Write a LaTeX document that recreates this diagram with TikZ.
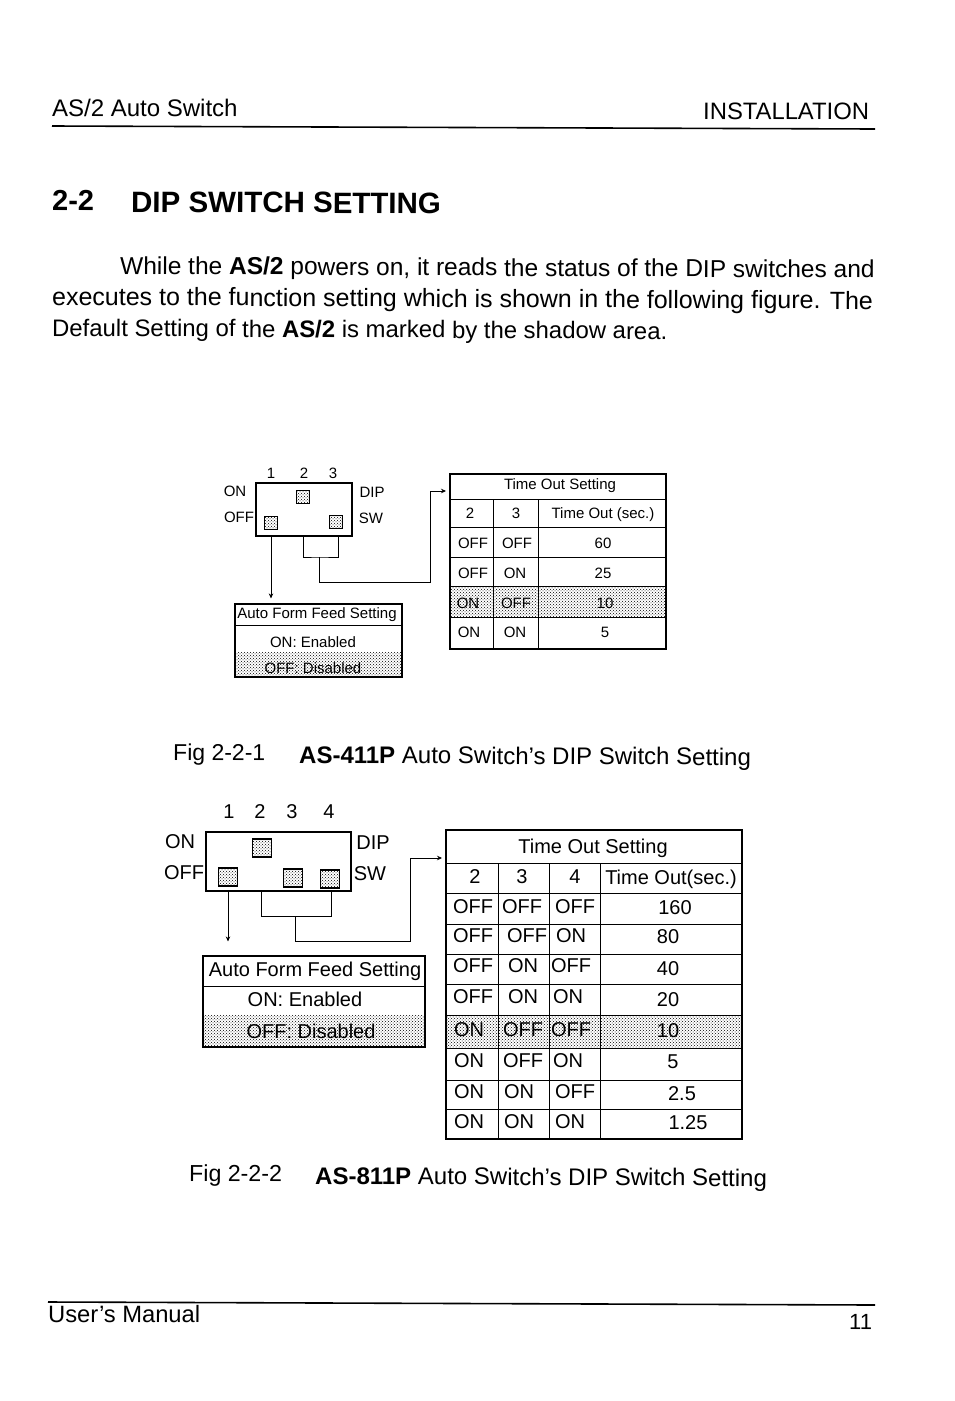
\documentclass[tikz,border=0pt]{standalone}
\usepackage{fontspec}
\setmainfont{Liberation Sans}
\usetikzlibrary{patterns,arrows.meta}

\begin{document}
\begin{tikzpicture}[x=1pt, y=-1pt,
  page/.style={anchor=base west, inner sep=0, rotate=-0.3, font=\fontsize{24}{28}\selectfont},
  small/.style={inner sep=0, font=\fontsize{15}{18}\selectfont},
  mid/.style={inner sep=0, font=\fontsize{20}{24}\selectfont},
  frame/.style={draw, line width=1.2pt, inner sep=0},
  dotfill/.style={inner sep=0, pattern=crosshatch dots, pattern color=black},
  switch/.style={draw, line width=1.5pt, inner sep=0, pattern=crosshatch dots, pattern color=black},
  grid/.style={line width=0.7pt},
  transfer/.style={-{Stealth[length=5pt, width=4.5pt]}, line width=0.7pt, shorten >=4pt},
  link/.style={line width=0.7pt},
]
\useasboundingbox (0,0) rectangle (954,1401);

% page text
\node[page] (runhead) at (52,116) {AS/2 Auto Switch};
\node[page, font=\fontsize{23.8}{28}\selectfont] (runsection) at (703,119) {INSTALLATION};
\draw[line width=1.6pt] (52,126) -- (875,129);
\node[page, rotate=0, font=\fontsize{29}{34}\selectfont\bfseries] (secnum) at (52,210) {2-2};
\node[page, rotate=0, font=\fontsize{29.5}{34}\selectfont\bfseries] (sectitle) at (131,212) {DIP SWITCH SETTING};
\node[page, font=\fontsize{24.5}{28}\selectfont] (bodya) at (120,274) {While the \textbf{AS/2} powers on, it reads the status of the DIP switches and};
\node[page, font=\fontsize{25}{28}\selectfont] (bodyb) at (52,305) {executes to the function setting which is shown in the following figure. The};
\node[page, font=\fontsize{23.9}{28}\selectfont] (bodyc) at (52,336) {Default Setting of the \textbf{AS/2} is marked by the shadow area.};

% first switch
\node[frame, minimum width=96, minimum height=53] (dip1) at (304,509.5) {};
\node[switch, minimum size=13] (dip1sw1) at (271,523) {};
\node[switch, minimum size=13] (dip1sw2) at (303,497) {};
\node[switch, minimum size=13] (dip1sw3) at (336,522) {};
\node[small] (dip1num1) at (271,473) {1};
\node[small] (dip1num2) at (304,473) {2};
\node[small] (dip1num3) at (333,473) {3};
\node[small] (dip1on) at (235,491) {ON};
\node[small] (dip1off) at (239,517) {OFF};
\node[small] (dip1dip) at (372,492) {DIP};
\node[small] (dip1sw) at (371,518) {SW};

% first form feed box
\node[dotfill, minimum width=167, minimum height=25] (feed1shade) at (318.5,664.5) {};
\node[frame, minimum width=167, minimum height=73] (feed1) at (318.5,640.5) {};
\draw[grid] (235,625) -- (402,625);
\node[small] (feed1head) at (317,615) {Auto Form Feed Setting};
\node[small] (feed1on) at (313,642) {ON: Enabled};
\node[small] (feed1off) at (313,668) {OFF: Disabled};

% first time out table
\node[dotfill, minimum width=216, minimum height=31] (time1shade) at (558,601.5) {};
\node[frame, minimum width=216, minimum height=175] (time1) at (558,561.5) {};
\draw[grid] (450,499) -- (666,499) (450,527) -- (666,527) (450,557) -- (666,557)
  (450,586) -- (666,586) (450,617) -- (666,617);
\draw[grid] (493,499) -- (493,649) (538,499) -- (538,649);
\node[small] (time1head) at (560,486) {Time Out Setting};
\node[small] (time1a) at (470,513) {2};
\node[small] (time1b) at (516,513) {3};
\node[small] (time1c) at (603,515) {Time Out (sec.)};
\node[small] (time1r1a) at (473,543) {OFF};
\node[small] (time1r1b) at (517,543) {OFF};
\node[small] (time1r1c) at (603,543) {60};
\node[small] (time1r2a) at (473,573) {OFF};
\node[small] (time1r2b) at (515,573) {ON};
\node[small] (time1r2c) at (603,573) {25};
\node[small] (time1r3a) at (468,603) {ON};
\node[small] (time1r3b) at (516,603) {OFF};
\node[small] (time1r3c) at (605,603) {10};
\node[small] (time1r4a) at (469,632) {ON};
\node[small] (time1r4b) at (515,632) {ON};
\node[small] (time1r4c) at (605,632) {5};

% first connectors
\coordinate (dip1left) at (303,536);
\coordinate (dip1right) at (338,536);
\coordinate (dip1join) at (319,557);
\coordinate (dip1turn) at (430,582);
\coordinate (time1in) at (450,491);
\draw[transfer, shorten >=5pt] (dip1.south -| dip1sw1) -- (feed1.north -| dip1sw1);
\draw[link] (dip1left) |- (dip1join) -| (dip1right);
\draw[transfer] (dip1join) |- (dip1turn) |- (time1in);

\node[page, font=\fontsize{23}{28}\selectfont] (caption1) at (173,760) {Fig 2-2-1};
\node[page] (caption1b) at (299,763) {\textbf{AS-411P} Auto Switch's DIP Switch Setting};

% second switch
\node[frame, minimum width=145, minimum height=59] (dip2) at (278.5,861.5) {};
\node[switch, minimum width=19, minimum height=18] (dip2sw1) at (228,877) {};
\node[switch, minimum width=19, minimum height=18] (dip2sw2) at (262,848) {};
\node[switch, minimum width=19, minimum height=18] (dip2sw3) at (293,878) {};
\node[switch, minimum width=19, minimum height=18] (dip2sw4) at (330,879) {};
\node[mid] (dip2num1) at (229,812) {1};
\node[mid] (dip2num2) at (260,812) {2};
\node[mid] (dip2num3) at (292,812) {3};
\node[mid] (dip2num4) at (329,812) {4};
\node[mid] (dip2on) at (180,842) {ON};
\node[mid] (dip2off) at (184,873) {OFF};
\node[mid] (dip2dip) at (373,843) {DIP};
\node[mid] (dip2sw) at (370,874) {SW};

% second form feed box
\node[dotfill, minimum width=222, minimum height=32] (feed2shade) at (314,1031) {};
\node[frame, minimum width=222, minimum height=91] (feed2) at (314,1001.5) {};
\draw[grid] (203,986) -- (425,986);
\node[mid] (feed2head) at (315,971) {Auto Form Feed Setting};
\node[mid] (feed2on) at (305,999) {ON: Enabled};
\node[mid] (feed2off) at (311,1031) {OFF: Disabled};

% second time out table
\node[dotfill, minimum width=296, minimum height=33] (time2shade) at (594,1031.5) {};
\node[frame, minimum width=296, minimum height=309] (time2) at (594,984.5) {};
\draw[grid] (446,863) -- (742,863) (446,893) -- (742,893) (446,924) -- (742,924)
  (446,954) -- (742,954) (446,984) -- (742,984) (446,1015) -- (742,1015)
  (446,1048) -- (742,1048) (446,1080) -- (742,1080) (446,1109) -- (742,1109);
\draw[grid] (498,863) -- (498,1139) (549,863) -- (549,1139) (600,863) -- (600,1139);
\node[mid] (time2head) at (593,848) {Time Out Setting};
\node[mid] (time2a) at (475,877) {2};
\node[mid] (time2b) at (522,877) {3};
\node[mid] (time2c) at (575,877) {4};
\node[mid] (time2d) at (671,879) {Time Out(sec.)};
\node[mid] (time2r1a) at (473,907) {OFF};
\node[mid] (time2r1b) at (522,907) {OFF};
\node[mid] (time2r1c) at (575,907) {OFF};
\node[mid] (time2r1d) at (675,908) {160};
\node[mid] (time2r2a) at (473,936) {OFF};
\node[mid] (time2r2b) at (527,936) {OFF};
\node[mid] (time2r2c) at (571,936) {ON};
\node[mid] (time2r2d) at (668,937) {80};
\node[mid] (time2r3a) at (473,966) {OFF};
\node[mid] (time2r3b) at (523,966) {ON};
\node[mid] (time2r3c) at (571,966) {OFF};
\node[mid] (time2r3d) at (668,969) {40};
\node[mid] (time2r4a) at (473,997) {OFF};
\node[mid] (time2r4b) at (523,997) {ON};
\node[mid] (time2r4c) at (568,997) {ON};
\node[mid] (time2r4d) at (668,1000) {20};
\node[mid] (time2r5a) at (469,1030) {ON};
\node[mid] (time2r5b) at (523,1030) {OFF};
\node[mid] (time2r5c) at (571,1030) {OFF};
\node[mid] (time2r5d) at (668,1031) {10};
\node[mid] (time2r6a) at (469,1061) {ON};
\node[mid] (time2r6b) at (523,1061) {OFF};
\node[mid] (time2r6c) at (568,1061) {ON};
\node[mid] (time2r6d) at (673,1062) {5};
\node[mid] (time2r7a) at (469,1092) {ON};
\node[mid] (time2r7b) at (519,1092) {ON};
\node[mid] (time2r7c) at (575,1092) {OFF};
\node[mid] (time2r7d) at (682,1094) {2.5};
\node[mid] (time2r8a) at (469,1122) {ON};
\node[mid] (time2r8b) at (519,1122) {ON};
\node[mid] (time2r8c) at (570,1122) {ON};
\node[mid] (time2r8d) at (688,1123) {1.25};

% second connectors
\coordinate (dip2left) at (261,891);
\coordinate (dip2right) at (331,891);
\coordinate (dip2join) at (295,916);
\coordinate (dip2turn) at (410,941);
\coordinate (time2in) at (446,858);
\draw[transfer, shorten >=14pt] (dip2.south -| dip2sw1) -- (feed2.north -| dip2sw1);
\draw[link] (dip2left) |- (dip2join) -| (dip2right);
\draw[transfer] (dip2join) |- (dip2turn) |- (time2in);

\node[page, font=\fontsize{23.2}{28}\selectfont] (caption2) at (189,1181) {Fig 2-2-2};
\node[page] (caption2b) at (315,1184) {\textbf{AS-811P} Auto Switch's DIP Switch Setting};

% footer
\draw[line width=1.6pt] (48,1302) -- (875,1305);
\node[page, rotate=0, font=\fontsize{23.7}{28}\selectfont] (foot) at (48,1322) {User's Manual};
\node[page, rotate=0, font=\fontsize{22}{26}\selectfont] (pagenum) at (849,1329) {11};
\end{tikzpicture}
\end{document}
